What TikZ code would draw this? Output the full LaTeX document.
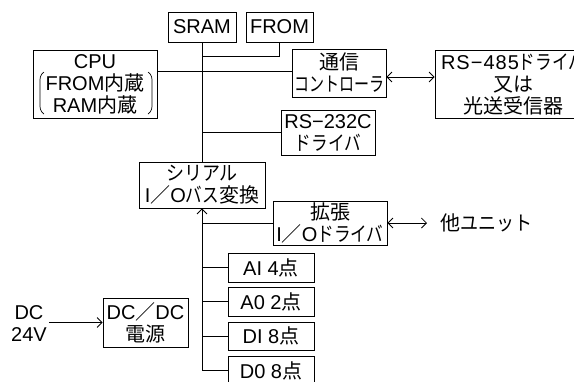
\documentclass[tikz,border=0pt]{standalone}
\usepackage{fontspec}
\setmainfont{Liberation Sans}
\newfontfamily\jp{Noto Sans CJK JP}
\newfontfamily\jpk[FakeStretch=0.83]{Noto Sans CJK JP}
\newfontfamily\jpn[FakeStretch=0.75]{Noto Sans CJK JP}
\newfontfamily\jpm[FakeStretch=0.9]{Noto Sans CJK JP}
\usetikzlibrary{arrows.meta}
\begin{document}
\begin{tikzpicture}[x=1pt,y=-1pt,
  box/.style={draw, line width=0.8pt, inner sep=0pt, align=center, font=\fontsize{20}{22}\selectfont},
  txt/.style={inner sep=2pt, align=center, font=\fontsize{20}{22}\selectfont},
  ln/.style={line width=0.8pt},
  >={Straight Barb[length=5pt,width=10pt]}]
\useasboundingbox (0,0) rectangle (574,381);
\node[box, minimum width=68pt, minimum height=30pt] (sram) at (202,27) {SRAM};
\node[box, minimum width=67pt, minimum height=30pt] (from) at (279.5,27) {FROM};
\node[box, minimum width=124pt, minimum height=68pt] (cpu) at (95,84) {CPU\\FROM{\jp 内蔵}\\RAM{\jp 内蔵}};
\node[box, minimum width=94pt, minimum height=48pt] (comm) at (339,73) {{\jp 通信}\\{\jpn コントローラ}};
\node[box, minimum width=156pt, minimum height=68pt] (rs485) at (513,84) {{\addfontfeature{LetterSpace=5}RS−485}{\jpk ドライバ}\\{\jp 又は}\\{\jp 光送受信器}};
\node[box, minimum width=94pt, minimum height=45pt] (rs232) at (328,132.5) {RS−232C\\{\jpk ドライバ}};
\node[box, minimum width=126pt, minimum height=46pt] (serial) at (202,185) {{\jpm シリアル}\\I{\jp ／}O{\jpk バス}{\jp 変換}};
\node[box, minimum width=114pt, minimum height=44pt] (ext) at (330,223) {{\jp 拡張}\\I{\jp ／}O{\jpk ドライバ}};
\node[box, minimum width=86pt, minimum height=29pt] (ai) at (271,267.5) {AI 4{\jp 点}};
\node[box, minimum width=86pt, minimum height=29pt] (ao) at (271,301.5) {A0 2{\jp 点}};
\node[box, minimum width=86pt, minimum height=28pt] (di) at (271,336) {DI 8{\jp 点}};
\node[box, minimum width=86pt, minimum height=29pt] (do) at (271,370.5) {D0 8{\jp 点}};
\node[box, minimum width=85pt, minimum height=49pt] (dcdc) at (145.5,322.5) {DC{\jp ／}DC\\{\jp 電源}};
\node[txt, anchor=west, inner sep=0pt] (other) at (440,223) {{\jp 他}{\jpm ユニット}};
\node[txt] (dcin) at (29,324) {DC\\24V};
% parentheses inside CPU box
\draw[line width=0.7pt] (44,72) .. controls (40,75) and (40,78) .. (40,82) -- (40,104) .. controls (40,108) and (40,111) .. (44,114);
\draw[line width=0.7pt] (148,72) .. controls (152,75) and (152,78) .. (152,82) -- (152,104) .. controls (152,108) and (152,111) .. (148,114);
% connectors
\draw[ln] (sram) -- (serial);
\draw[ln] (from.south) |- (sram.south |- 0,56);
\draw[ln] (cpu.east |- 0,71) -- (comm.west |- 0,71);
\draw[ln,<->] ([yshift=-4pt]comm.east) -- ([yshift=-4pt]comm.east -| rs485.west);
\draw[ln] (rs232.west) -- (rs232.west -| sram.south);
\draw[ln,->] (do.west -| serial.south) -- (serial.south);
\draw[ln] (ext.west) -- (ext.west -| serial.south);
\draw[ln] (ai.west) -- (ai.west -| serial.south);
\draw[ln] (ao.west) -- (ao.west -| serial.south);
\draw[ln] (di.west) -- (di.west -| serial.south);
\draw[ln] (do.west) -- (do.west -| serial.south);
\draw[ln,<->] (ext.east) -- ([xshift=-13pt]other.west);
\draw[ln,->] (dcin.east |- dcdc.west) -- (dcdc.west);
\end{tikzpicture}
\end{document}
